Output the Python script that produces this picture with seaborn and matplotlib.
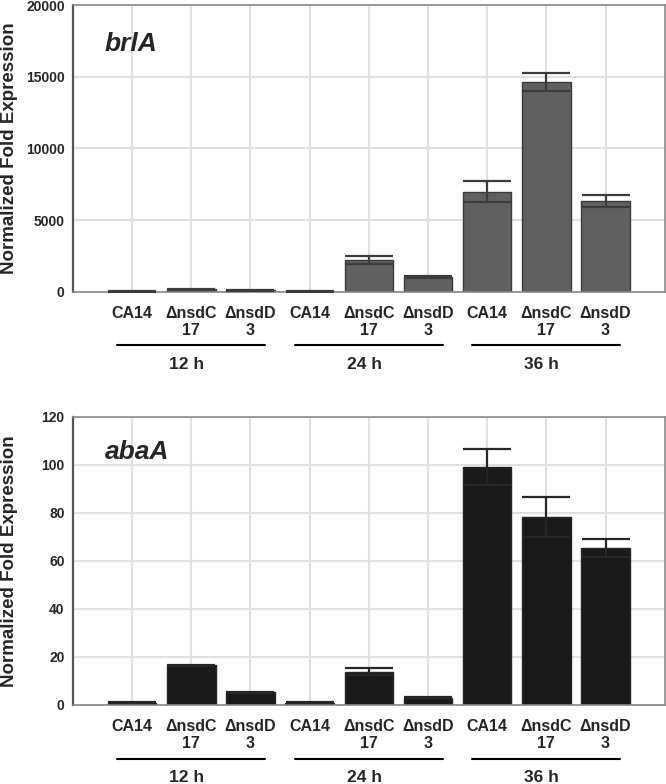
import numpy as np
import pandas as pd
import matplotlib
matplotlib.use("Agg")
import matplotlib.pyplot as plt
import matplotlib.transforms as mtransforms
import seaborn as sns

# Data
strains = ["CA14", "ΔnsdC\n17", "ΔnsdD\n3"] * 3
times = ["12 h", "24 h", "36 h"]
brlA_mean = [30, 200, 110, 30, 2230, 1050, 6990, 14620, 6320]
brlA_err = [10, 40, 20, 10, 300, 60, 750, 620, 420]
abaA_mean = [1.0, 16.5, 5.3, 1.0, 13.9, 3.0, 98.9, 78.3, 65.4]
abaA_err = [0.1, 0.3, 0.2, 0.1, 1.6, 0.2, 7.5, 8.2, 3.8]

keys = [f"{t} {s}" for t in times for s in ["CA14", "nsdC17", "nsdD3"]]
df = pd.DataFrame({"key": keys, "brlA": brlA_mean, "abaA": abaA_mean})

sns.set_style("white")
plt.rcParams['font.family'] = ['Liberation Sans', 'DejaVu Sans']
plt.rcParams['font.weight'] = 'bold'

fig = plt.figure(figsize=(6.66, 7.84), dpi=100)
ax1 = fig.add_axes([0.1096, 0.6276, 0.8884, 0.366])
ax2 = fig.add_axes([0.1096, 0.1008, 0.8884, 0.3677])


def draw_panel(ax, col, err, color, ecolor, ylim, yticks, gene, gene_y):
    ax.set_axisbelow(True)
    for yt in yticks:
        ax.axhline(yt, color='#e0e0e0', lw=1.5, zorder=0)
    for xt in range(9):
        ax.axvline(xt, color='#e0e0e0', lw=1.5, zorder=0)
    sns.barplot(data=df, x="key", y=col, color=color, saturation=1, width=0.82,
                edgecolor=ecolor, linewidth=1.0, errorbar=None, ax=ax, zorder=2)
    ax.errorbar(range(9), df[col], yerr=err, fmt='none', ecolor=ecolor,
                elinewidth=1.6, capsize=17, capthick=1.6, zorder=3)
    ax.set_xlim(-1, 9)
    ax.set_ylim(*ylim)
    ax.set_yticks(yticks)
    ax.set_yticklabels([str(v) for v in yticks], fontsize=10, fontweight='bold')
    ax.set_xticks(range(9))
    ax.set_xticklabels(strains, fontsize=11.5, fontweight='bold', linespacing=1.15)
    ax.tick_params(axis='x', length=5, width=1.2, color='#555555', pad=5, direction='out')
    ax.tick_params(axis='y', length=3, width=1.0, color='#777777', pad=3, direction='out')
    ax.set_xlabel("")
    ax.set_ylabel("Normalized Fold Expression", fontsize=13.5, fontweight='bold', labelpad=6)
    ax.yaxis.set_label_coords(-0.093, 0.5)
    for side in ["top", "right"]:
        ax.spines[side].set_color('#8a8a8a')
        ax.spines[side].set_linewidth(1.2)
    ax.spines["left"].set_color('#555555')
    ax.spines["left"].set_linewidth(1.6)
    ax.spines["bottom"].set_color('#888888')
    ax.spines["bottom"].set_linewidth(1.2)
    ax.text(0.054, gene_y, gene, transform=ax.transAxes, fontsize=19,
            fontweight='bold', style='italic', ha='left', va='baseline')
    trans = mtransforms.blended_transform_factory(ax.transData, ax.transAxes)
    for i, t in enumerate(times):
        x0 = 3 * i - 0.25
        x1 = 3 * i + 2.25
        ax.plot([x0, x1], [-0.186, -0.186], color='black', lw=1.5,
                transform=trans, clip_on=False)
        ax.text(3 * i + 1 - 0.08, -0.268, t, transform=trans, ha='center',
                va='baseline', fontsize=12.5, fontweight='bold')


draw_panel(ax1, "brlA", brlA_err, '#606060', '#3c3c3c', (0, 20000),
           [0, 5000, 10000, 15000, 20000], "brlA", 0.84)
draw_panel(ax2, "abaA", abaA_err, '#1a1a1a', '#262626', (0, 120),
           [0, 20, 40, 60, 80, 100, 120], "abaA", 0.853)

fig.savefig("out.png", dpi=100)
